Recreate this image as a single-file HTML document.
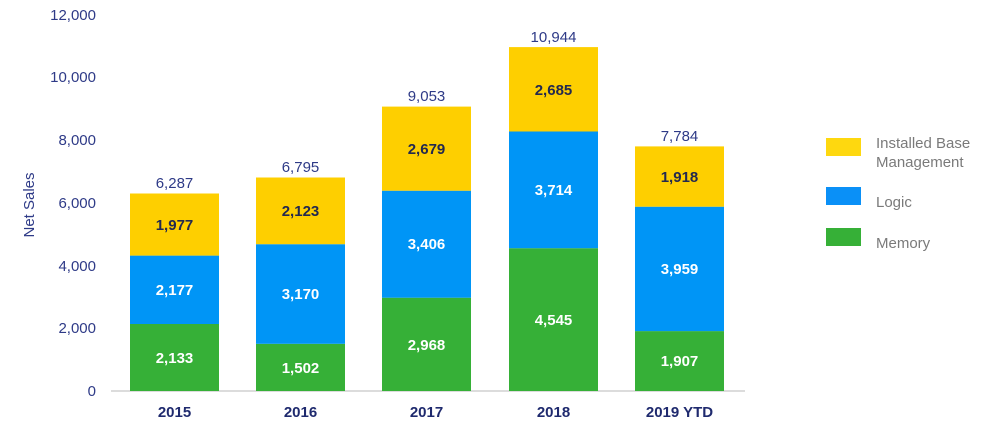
<!DOCTYPE html>
<html><head><meta charset="utf-8"><style>
html,body{margin:0;padding:0;background:#fff;}
svg{display:block;font-family:"Liberation Sans",Arial,sans-serif;}
</style></head><body>
<svg width="1000" height="435" viewBox="0 0 1000 435" xmlns="http://www.w3.org/2000/svg">
<g fill="#2e3a87" font-size="15" text-anchor="end">
<text x="96" y="396">0</text>
<text x="96" y="333">2,000</text>
<text x="96" y="271">4,000</text>
<text x="96" y="208">6,000</text>
<text x="96" y="145">8,000</text>
<text x="96" y="82">10,000</text>
<text x="96" y="20">12,000</text>
</g>
<text transform="translate(34,205) rotate(-90)" fill="#2e3a87" font-size="15" text-anchor="middle">Net Sales</text>
<line x1="111" y1="391" x2="745" y2="391" stroke="#d0d0d0" stroke-width="1.5"/>
<g>
<rect x="130" y="324" width="89" height="67" fill="#36b037"/>
<rect x="130" y="255.6" width="89" height="68.4" fill="#0095f6"/>
<rect x="130" y="193.5" width="89" height="62.1" fill="#fecf00"/>
<rect x="256" y="343.8" width="89" height="47.2" fill="#36b037"/>
<rect x="256" y="244.2" width="89" height="99.6" fill="#0095f6"/>
<rect x="256" y="177.5" width="89" height="66.7" fill="#fecf00"/>
<rect x="382" y="297.7" width="89" height="93.3" fill="#36b037"/>
<rect x="382" y="190.7" width="89" height="107" fill="#0095f6"/>
<rect x="382" y="106.6" width="89" height="84.1" fill="#fecf00"/>
<rect x="509" y="248.2" width="89" height="142.8" fill="#36b037"/>
<rect x="509" y="131.5" width="89" height="116.7" fill="#0095f6"/>
<rect x="509" y="47.1" width="89" height="84.4" fill="#fecf00"/>
<rect x="635" y="331.1" width="89" height="59.9" fill="#36b037"/>
<rect x="635" y="206.7" width="89" height="124.4" fill="#0095f6"/>
<rect x="635" y="146.4" width="89" height="60.3" fill="#fecf00"/>
</g>
<g font-size="15" font-weight="bold" text-anchor="middle" fill="#fff">
<text x="174.5" y="363">2,133</text><text x="174.5" y="295">2,177</text>
<text x="300.5" y="373">1,502</text><text x="300.5" y="299">3,170</text>
<text x="426.5" y="350">2,968</text><text x="426.5" y="249">3,406</text>
<text x="553.5" y="325">4,545</text><text x="553.5" y="195">3,714</text>
<text x="679.5" y="366">1,907</text><text x="679.5" y="274">3,959</text>
</g>
<g font-size="15" font-weight="bold" text-anchor="middle" fill="#23294f">
<text x="174.5" y="230">1,977</text>
<text x="300.5" y="216">2,123</text>
<text x="426.5" y="154">2,679</text>
<text x="553.5" y="95">2,685</text>
<text x="679.5" y="182">1,918</text>
</g>
<g font-size="15" text-anchor="middle" fill="#2e3a87">
<text x="174.5" y="188">6,287</text>
<text x="300.5" y="172">6,795</text>
<text x="426.5" y="101">9,053</text>
<text x="553.5" y="42">10,944</text>
<text x="679.5" y="141">7,784</text>
</g>
<g font-size="15" font-weight="bold" text-anchor="middle" fill="#1f2a6e">
<text x="174.5" y="417">2015</text>
<text x="300.5" y="417">2016</text>
<text x="426.5" y="417">2017</text>
<text x="553.5" y="417">2018</text>
<text x="679.5" y="417">2019 YTD</text>
</g>
<rect x="826" y="138" width="35" height="18" fill="#fed80f"/>
<rect x="826" y="187" width="35" height="18" fill="#0a90f7"/>
<rect x="826" y="228" width="35" height="18" fill="#36b037"/>
<g font-size="15" fill="#7a7a7a">
<text x="876" y="148">Installed Base</text>
<text x="876" y="167">Management</text>
<text x="876" y="207">Logic</text>
<text x="876" y="248">Memory</text>
</g>
</svg>
</body></html>
